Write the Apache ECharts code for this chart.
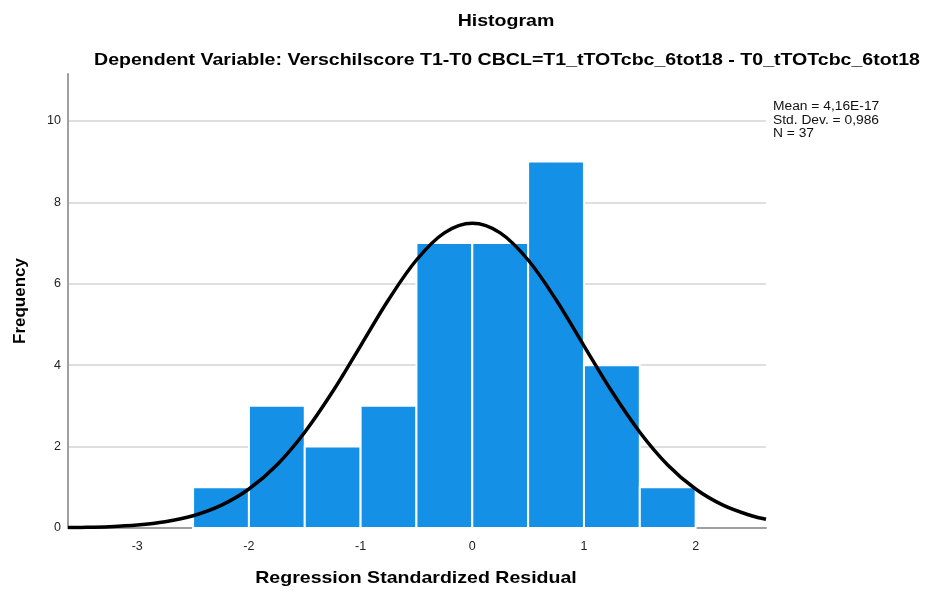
<!DOCTYPE html>
<html>
<head>
<meta charset="utf-8">
<script src="https://cdn.jsdelivr.net/npm/echarts@6/dist/echarts.min.js"></script>
<style>html,body{margin:0;padding:0;background:#fff;}#c{width:927px;height:592px;}</style>
</head>
<body>
<div id="c"></div>
<script>
// Histogram bins (lower edge, upper edge) and frequencies
const binStarts = [-2.5, -2.0, -1.5, -1.0, -0.5, 0.0, 0.5, 1.0, 1.5];
const binEnds   = [-2.0, -1.5, -1.0, -0.5, 0.0, 0.5, 1.0, 1.5, 2.0];
const frequencies = [1, 3, 2, 3, 7, 7, 9, 4, 1];
// Normal curve points
const curveX = [-3.62, -3.5, -3.25, -3, -2.75, -2.5, -2.25, -2, -1.75, -1.5, -1.25, -1, -0.75, -0.5, -0.25, 0, 0.25, 0.5, 0.75, 1, 1.25, 1.5, 1.75, 2, 2.25, 2.5, 2.63];
const curveY = [0.01, 0.014, 0.033, 0.073, 0.153, 0.30, 0.554, 0.957, 1.549, 2.353, 3.351, 4.475, 5.605, 6.582, 7.249, 7.485, 7.249, 6.582, 5.605, 4.475, 3.351, 2.353, 1.549, 0.957, 0.554, 0.30, 0.214];
const statsLines = ['Mean = 4,16E-17', 'Std. Dev. = 0,986', 'N = 37'];
const titleText = 'Histogram';
const subtitleText = 'Dependent Variable: Verschilscore T1-T0 CBCL=T1_tTOTcbc_6tot18 - T0_tTOTcbc_6tot18';
const xTitle = 'Regression Standardized Residual';
const yTitle = 'Frequency';

const barData = binStarts.map((s, i) => [s, binEnds[i], frequencies[i]]);
const curveData = curveX.map((x, i) => [x, curveY[i]]);

const chart = echarts.init(document.getElementById('c'), null, {renderer: 'canvas'});
const FONT = 'Liberation Sans, Arial, sans-serif';
const SX = 1.15; // horizontal stretch of the reference text

function stretchedText(text, x, y, font, align) {
  return {
    type: 'text', x: x, y: y, scaleX: SX, silent: true,
    style: {text: text, font: font, fill: '#000', textAlign: align, textVerticalAlign: 'middle'}
  };
}

const graphics = [
  stretchedText(titleText, 506, 21, 'bold 17px ' + FONT, 'center'),
  stretchedText(subtitleText, 507, 60, 'bold 17px ' + FONT, 'center'),
  stretchedText(xTitle, 416, 578, 'bold 17px ' + FONT, 'center')
].concat(statsLines.map((t, i) => {
  const g = stretchedText(t, 773, 107 + i * 13.5, '12px ' + FONT, 'left');
  g.style.fill = '#111';
  return g;
}));

chart.setOption({
  animation: false,
  backgroundColor: '#fff',
  grid: {left: 68, right: 161, top: 74, bottom: 64, containLabel: false},
  xAxis: {
    type: 'value', min: -3.62, max: 2.63,
    axisLine: {show: true, onZero: false, lineStyle: {color: '#a0a0a0', width: 2}},
    axisTick: {show: false},
    splitLine: {show: false},
    axisLabel: {fontFamily: FONT, fontSize: 12.5, color: '#222', margin: 12, showMinLabel: false, showMaxLabel: false}
  },
  yAxis: {
    type: 'value', min: 0, max: 11.15, interval: 2,
    name: yTitle, nameLocation: 'middle', nameGap: 39, nameRotate: 90,
    nameTextStyle: {fontFamily: FONT, fontSize: 17, fontWeight: 'bold', color: '#000'},
    axisLine: {show: true, onZero: false, lineStyle: {color: '#a0a0a0', width: 2}},
    axisTick: {show: false},
    splitLine: {show: true, showMaxLine: false, lineStyle: {color: '#d4d4d4', width: 1.5}},
    axisLabel: {fontFamily: FONT, fontSize: 12.5, color: '#222', margin: 7, showMaxLabel: false,
      formatter: v => (Math.abs(v % 2) < 1e-9 ? String(v) : '')}
  },
  graphic: graphics,
  series: [
    {
      type: 'custom',
      data: barData,
      encode: {x: [0, 1], y: 2},
      renderItem: function (params, api) {
        const p0 = api.coord([api.value(0), 0]);
        const p1 = api.coord([api.value(1), api.value(2)]);
        return {
          type: 'rect',
          shape: {x: p0[0], y: p1[1], width: p1[0] - p0[0], height: p0[1] - p1[1]},
          style: {fill: '#1490e6', stroke: '#ffffff', lineWidth: 2}
        };
      },
      z: 2
    },
    {
      type: 'line', data: curveData, smooth: 0.35, showSymbol: false,
      lineStyle: {color: '#000', width: 3.5}, z: 3
    }
  ]
});
</script>
</body>
</html>
